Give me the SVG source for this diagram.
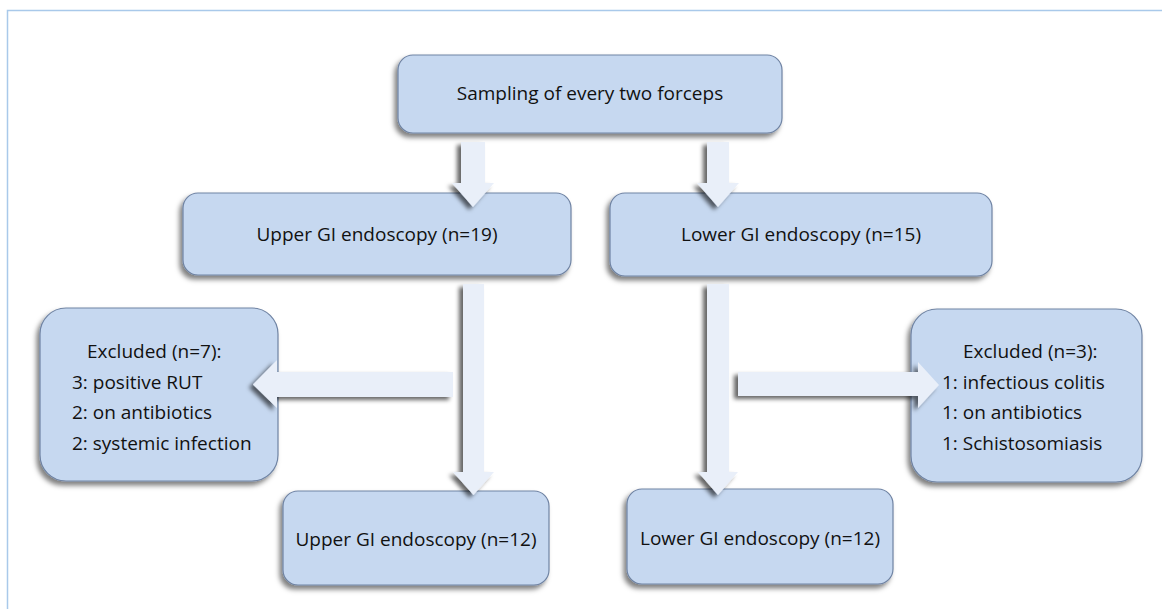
<svg xmlns="http://www.w3.org/2000/svg" width="1162" height="609" viewBox="0 0 1162 609">
  <defs>
    <filter id="sh" x="-20%" y="-20%" width="140%" height="150%">
      <feDropShadow dx="-3" dy="4" stdDeviation="2.5" flood-color="#000" flood-opacity="0.5"/>
    </filter>
    <filter id="sha" x="-40%" y="-20%" width="180%" height="150%">
      <feDropShadow dx="-4" dy="3" stdDeviation="2" flood-color="#000" flood-opacity="0.6"/>
    </filter>
    <style>
      .box { fill: #c6d8f0; stroke: #6f83a3; stroke-width: 1.2; filter: url(#sh); }
      .arr { fill: #e9eff9; stroke: none; filter: url(#sha); }
      .t { font-family: "Open Sans", "Liberation Sans", sans-serif; font-size: 19px; fill: #111111; }
      .c { text-anchor: middle; }
    </style>
  </defs>
  <rect width="1162" height="609" fill="#ffffff"/>
  <path d="M7.5,609 V10.5 H1162" fill="none" stroke="#a9c9ea" stroke-width="1.5"/>

  <g id="node-sampling">
    <rect class="box" x="398" y="55" width="384" height="78" rx="15"/>
    <text class="t c" x="590" y="100">Sampling of every two forceps</text>
  </g>
  <g id="node-upper19">
    <rect class="box" x="183" y="193" width="388" height="82" rx="15"/>
    <text class="t c" x="377" y="241">Upper GI endoscopy (n=19)</text>
  </g>
  <g id="node-lower15">
    <rect class="box" x="610" y="193" width="382" height="83" rx="15"/>
    <text class="t c" x="801" y="241">Lower GI endoscopy (n=15)</text>
  </g>
  <g id="node-excluded7">
    <rect class="box" x="40" y="308" width="238" height="173" rx="26"/>
    <text class="t" x="87" y="358">Excluded (n=7):</text>
    <text class="t" x="72" y="388.5">3: positive RUT</text>
    <text class="t" x="72" y="419">2: on antibiotics</text>
    <text class="t" x="72" y="449.5">2: systemic infection</text>
  </g>
  <g id="node-excluded3">
    <rect class="box" x="911" y="309" width="231" height="173" rx="26"/>
    <text class="t" x="963" y="358">Excluded (n=3):</text>
    <text class="t" x="942" y="388.5">1: infectious colitis</text>
    <text class="t" x="942" y="419">1: on antibiotics</text>
    <text class="t" x="942" y="449.5">1: Schistosomiasis</text>
  </g>
  <g id="node-upper12">
    <rect class="box" x="283" y="491" width="266" height="94" rx="15"/>
    <text class="t c" x="416" y="546">Upper GI endoscopy (n=12)</text>
  </g>
  <g id="node-lower12">
    <rect class="box" x="627" y="489" width="266" height="95" rx="15"/>
    <text class="t c" x="760" y="545">Lower GI endoscopy (n=12)</text>
  </g>

  <g id="connectors">
    <polygon class="arr" points="461,142 485,142 485,183 494,183 473,207 452,183 461,183"/>
    <polygon class="arr" points="707,142 729,142 729,183 739,183 718,207 697,183 707,183"/>
    <polygon class="arr" points="463,284 484,284 484,472 494,472 473.5,495 453,472 463,472"/>
    <polygon class="arr" points="707,284 729,284 729,472 738,472 718,495 698,472 707,472"/>
    <polygon class="arr" points="453,372 277,372 277,360 253,384.5 277,408 277,397 453,397"/>
    <polygon class="arr" points="738,372 918,372 918,362 939,385 918,408 918,396 738,396"/>
  </g>
</svg>
